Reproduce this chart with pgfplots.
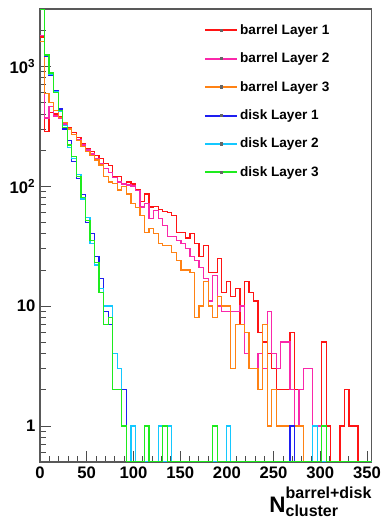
\documentclass[border=0pt]{standalone}
\usepackage{fontspec}
\setmainfont{Liberation Sans}
\usepackage{pgfplots}
\pgfplotsset{compat=1.18}
\usepackage{pgfplotstable}

\definecolor{cRed}{RGB}{255,20,20}
\definecolor{cMag}{RGB}{250,40,170}
\definecolor{cOra}{RGB}{255,130,20}
\definecolor{cBlu}{RGB}{30,30,240}
\definecolor{cCya}{RGB}{20,200,255}
\definecolor{cGre}{RGB}{30,235,30}

\pgfplotstableread{
k r m o b c g
0 1750 1800 1600 3000 3000 3000
1 285 370 590 1200 1230 1240
2 410 460 500 840 860 880
3 400 385 430 620 610 600
4 380 370 375 440 420 430
5 340 330 340 300 320 310
6 310 300 300 240 210 220
7 280 270 270 160 170 176
8 255 245 240 115 125 120
9 225 220 215 85 78 80
10 205 200 195 50 55 52
11 195 185 180 40 33 35
12 180 170 165 26 22 23
13 170 155 150 17 14 13
14 155 140 121 9 10 7
15 148 130 108 7 10 8
16 121 118 105 2 4 2
17 121 108 93 2 3 2
18 104 104 99 2 1 1
19 108 102 86 0.5 0.5 0.5
20 104 100 72 0.5 1 0.5
21 93 92 66 0.5 0.5 0.5
22 74 67 57 0.5 0.5 0.5
23 86 72 41 1 0.5 1
24 67 54 44 0.5 0.5 0.5
25 68 63 40 0.5 0.5 0.5
26 64 54 33 0.5 1 0.5
27 61 47 32 0.5 0.5 1
28 60 38 32 0.5 1 0.5
29 57 38 28 0.5 0.5 0.5
30 41 35 24 0.5 0.5 0.5
31 41 33 20 0.5 0.5 0.5
32 37 30 20 0.5 0.5 0.5
33 40 26 19 0.5 0.5 0.5
34 33 24 8 0.5 0.5 0.5
35 26 21 10 0.5 0.5 0.5
36 32 17 16 0.5 0.5 0.5
37 19 11 10 0.5 0.5 0.5
38 19 18 8 0.5 0.5 1
39 25 10 12 0.5 0.5 0.5
40 13 9 10 0.5 0.5 0.5
41 16 9 10 0.5 1 0.5
42 12 9 3 0.5 0.5 0.5
43 14 9 7 0.5 0.5 0.5
44 7 10 7 0.5 0.5 0.5
45 16 4 6 0.5 0.5 0.5
46 13 3 3 0.5 0.5 0.5
47 11 3 3 0.5 0.5 0.5
48 6 4 2 0.5 0.5 0.5
49 5 3 7 0.5 0.5 0.5
50 4 9 1 0.5 0.5 0.5
51 3 4 2 0.5 0.5 0.5
52 2 3 1 0.5 0.5 0.5
53 2 5 1 0.5 0.5 0.5
54 2 5 1 0.5 0.5 0.5
55 6 2 0.5 1 0.5 0.5
56 2 1 1 0.5 0.5 0.5
57 2 2 1 0.5 0.5 0.5
58 3 3 0.5 0.5 0.5 0.5
59 3 3 0.5 0.5 0.5 0.5
60 1 0.5 0.5 0.5 1 0.5
61 1 1 0.5 0.5 0.5 0.5
62 5 0.5 0.5 0.5 0.5 1
63 1 0.5 0.5 0.5 0.5 0.5
64 0.5 0.5 0.5 0.5 0.5 0.5
65 0.5 0.5 0.5 0.5 0.5 0.5
66 1 0.5 0.5 0.5 0.5 0.5
67 2 0.5 0.5 0.5 0.5 0.5
68 1 0.5 0.5 0.5 0.5 0.5
69 1 0.5 0.5 0.5 0.5 0.5
70 0.5 0.5 0.5 0.5 0.5 0.5
71 0.5 0.5 0.5 0.5 0.5 0.5
72 0.5 0.5 0.5 0.5 0.5 0.5
73 0.5 0.5 0.5 0.5 0.5 0.5
}\histdata

\begin{document}
\begin{tikzpicture}
\useasboundingbox (0pt,0pt) rectangle (286.5pt,389.25pt);
\begin{axis}[
  at={(30pt,42.75pt)}, anchor=south west,
  scale only axis, width=248.8pt, height=339.75pt,
  xmin=0, xmax=355, ymin=0.5, ymax=3000, ymode=log,
  axis line style={black!65, line width=0.8pt},
  tick align=inside, xtick pos=bottom, ytick pos=left,
  xtick={0,50,...,350}, minor x tick num=4,
  ytick={1,10,100,1000},
  yticklabels={1,10,10\textsuperscript{2},10\textsuperscript{3}},
  minor ytick={0.6,0.7,0.8,0.9,2,3,4,5,6,7,8,9,20,30,40,50,60,70,80,90,200,300,400,500,600,700,800,900,2000},
  major tick length=8pt, minor tick length=4.5pt,
  tick style={black!70, line width=0.6pt},
  ticklabel style={font=\fontsize{12.5}{12.5}\selectfont\bfseries},
  /pgf/number format/assume math mode=true,
  every axis plot/.append style={line width=0.95pt, const plot mark left},
  legend style={at={(axis description cs:0.494,0.971)}, anchor=north west,
    draw=none, fill=none, font=\fontsize{10.2}{10.2}\selectfont\bfseries,
    row sep=9.4pt, inner sep=0pt, nodes={inner sep=1.5pt}},
  legend cell align=left,
  legend image code/.code={\draw[#1,line width=1.5pt] (0pt,0pt) -- (24pt,0pt);
    \fill[black!60] (11.3pt,-0.8pt) rectangle (12.7pt,0.8pt);},
]
\addplot[cRed] table[x expr=\thisrow{k}*4.863, y=r] {\histdata};
\addlegendentry{barrel Layer 1}
\addplot[cMag] table[x expr=\thisrow{k}*4.863, y=m] {\histdata};
\addlegendentry{barrel Layer 2}
\addplot[cOra] table[x expr=\thisrow{k}*4.863, y=o] {\histdata};
\addlegendentry{barrel Layer 3}
\addplot[cBlu] table[x expr=\thisrow{k}*4.863, y=b] {\histdata};
\addlegendentry{disk Layer 1}
\addplot[cCya] table[x expr=\thisrow{k}*4.863, y=c] {\histdata};
\addlegendentry{disk Layer 2}
\addplot[cGre] table[x expr=\thisrow{k}*4.863, y=g] {\histdata};
\addlegendentry{disk Layer 3}
\end{axis}
\node[anchor=base east, inner sep=0pt, font=\bfseries] at (278.8pt,4.7pt)
  {\fontsize{16.8}{17}\selectfont N\rlap{\raisebox{-3pt}{\fontsize{12}{12}\selectfont cluster}}\raisebox{10.8pt}{\fontsize{12}{12}\selectfont barrel+disk}};
\end{tikzpicture}
\end{document}
